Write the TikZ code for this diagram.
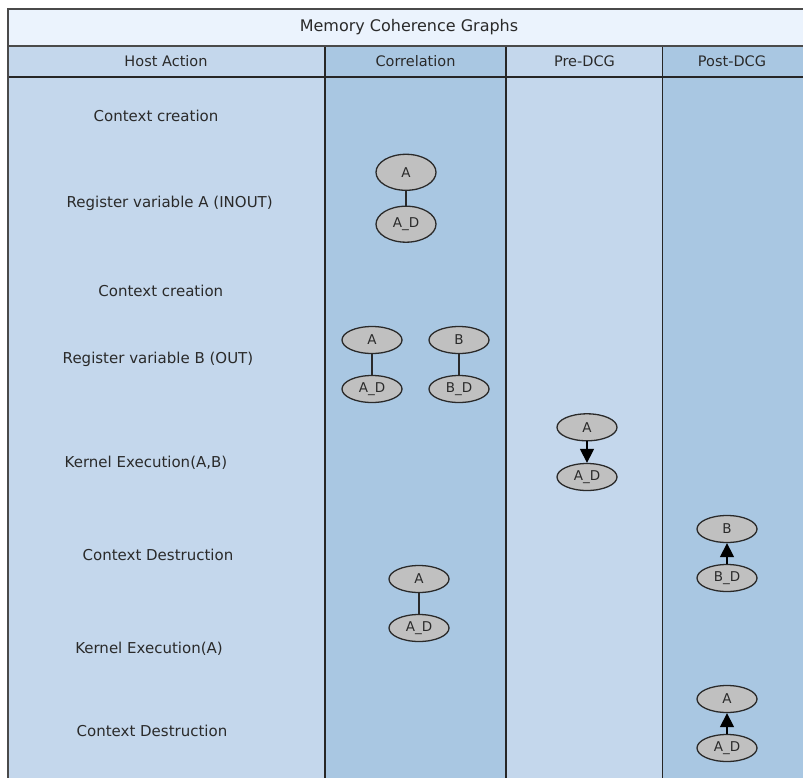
\documentclass[tikz,border=0pt]{standalone}
\usepackage{fontspec}
\setmainfont{DejaVu Sans}
\usetikzlibrary{arrows.meta,shapes.geometric}

\definecolor{titlefill}{HTML}{EBF3FD}
\definecolor{lightcol}{HTML}{C4D7EC}
\definecolor{darkcol}{HTML}{A9C7E2}
\definecolor{framegray}{HTML}{4A4A4A}
\definecolor{nodefill}{HTML}{C0C0C0}
\definecolor{inkgray}{HTML}{2A2A2A}

\tikzset{
  framerule/.style={draw=framegray, line width=2pt},
  seprule/.style={draw=black!85, line width=1.5pt},
  titletext/.style={text=inkgray, font=\fontsize{16}{19}\selectfont},
  headtext/.style={text=inkgray, font=\fontsize{14.5}{17}\selectfont},
  actiontext/.style={text=inkgray, font=\fontsize{15}{18}\selectfont},
  memnode/.style={ellipse, draw=inkgray, fill=nodefill, line width=1.3pt,
    minimum width=60pt, minimum height=27pt, inner sep=0pt, text=inkgray,
    font=\fontsize{13.5}{15}\selectfont},
  tallnode/.style={memnode, minimum height=36pt},
  link/.style={draw=inkgray, line width=1.3pt},
  dcgarrow/.style={link, -{Triangle[length=14pt,width=14pt]}, draw=black, fill=black}
}

\begin{document}
\begin{tikzpicture}[x=1pt,y=-1pt]
\useasboundingbox (0,0) rectangle (803,778);
\clip (0,0) rectangle (803,778);
\fill[white] (0,0) rectangle (803,778);

% table cells
\fill[titlefill] (7.5,9) rectangle (820,46.5);
\fill[lightcol] (7.5,46.5) rectangle (325,800);
\fill[darkcol] (325,46.5) rectangle (506,800);
\fill[lightcol] (506,46.5) rectangle (662.7,800);
\fill[darkcol] (662.7,46.5) rectangle (820,800);

% rules
\draw[seprule] (7.5,77) -- (820,77);
\draw[seprule] (325,46.5) -- (325,800);
\draw[seprule] (506,46.5) -- (506,800);
\draw[seprule] (662.7,46.5) -- (662.7,800);
\draw[framerule] (7.5,46.5) -- (820,46.5);
\draw[framerule] (7.5,800) -- (7.5,9) -- (820,9);

% headings
\node[titletext] (title) at (409,27.5) {Memory Coherence Graphs};
\node[headtext] (hhost) at (166,61.5) {Host Action};
\node[headtext] (hcorr) at (415.5,61.5) {Correlation};
\node[headtext] (hpre) at (584.5,61.5) {Pre-DCG};
\node[headtext] (hpost) at (732,61.5) {Post-DCG};

% host actions
\node[actiontext] (act1) at (156,116) {Context creation};
\node[actiontext] (act2) at (169.7,203) {Register variable A (INOUT)};
\node[actiontext] (act3) at (160.8,291) {Context creation};
\node[actiontext] (act4) at (158,359) {Register variable B (OUT)};
\node[actiontext] (act5) at (146,463) {Kernel Execution(A,B)};
\node[actiontext] (act6) at (158,555) {Context Destruction};
\node[actiontext] (act7) at (149,649) {Kernel Execution(A)};
\node[actiontext] (act8) at (152,731) {Context Destruction};

% correlation graphs
\node[tallnode] (ca1) at (406,172.3) {A};
\node[tallnode] (ca1d) at (406,224.2) {A\_D};
\draw[link] (ca1) -- (ca1d);

\node[memnode] (ca2) at (372,340) {A};
\node[memnode] (ca2d) at (372,389) {A\_D};
\node[memnode] (cb2) at (459,340) {B};
\node[memnode] (cb2d) at (459,389) {B\_D};
\draw[link] (ca2) -- (ca2d);
\draw[link] (cb2) -- (cb2d);

\node[memnode] (ca3) at (419,579) {A};
\node[memnode] (ca3d) at (419,628) {A\_D};
\draw[link] (ca3) -- (ca3d);

% pre-DCG
\node[memnode] (pa) at (587,427.3) {A};
\node[memnode] (pad) at (587,477) {A\_D};
\draw[dcgarrow] (pa) -- (pad);

% post-DCG
\node[memnode] (qb) at (727,529) {B};
\node[memnode] (qbd) at (727,578) {B\_D};
\draw[dcgarrow] (qbd) -- (qb);

\node[memnode] (qa) at (727,699) {A};
\node[memnode] (qad) at (727,748) {A\_D};
\draw[dcgarrow] (qad) -- (qa);
\end{tikzpicture}
\end{document}
